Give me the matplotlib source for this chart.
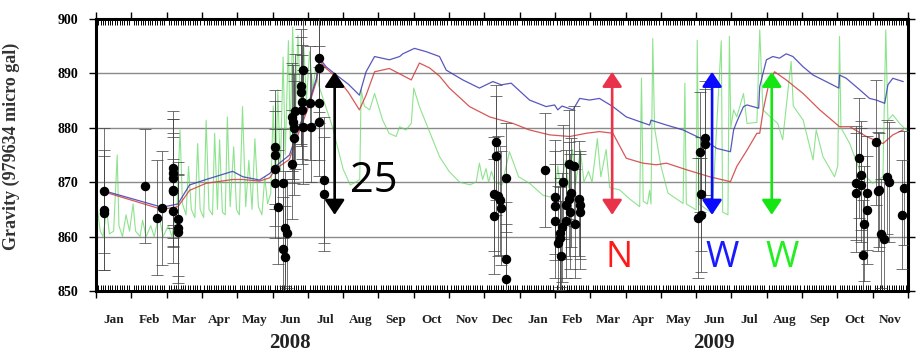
"""Gravity time series 2008-2009 with model curves, rainfall-like trace and observations."""

import matplotlib

matplotlib.use("Agg")
import matplotlib.pyplot as plt
import numpy as np

# x values are months counted from 1 Jan 2008
MONTH_LABELS = ["Jan", "Feb", "Mar", "Apr", "May", "Jun", "Jul", "Aug", "Sep", "Oct",
                "Nov", "Dec", "Jan", "Feb", "Mar", "Apr", "May", "Jun", "Jul", "Aug",
                "Sep", "Oct", "Nov"]
YEAR_LABELS = ["2008", "2009"]
YEAR_CENTERS = [5.5, 17.5]

# observations (month, gravity, error)
obs_t = [0.24, 0.24, 0.24, 1.40, 1.73, 1.87, 2.18, 2.18, 2.18, 2.18, 2.18, 2.18,
         2.32, 2.32, 2.32,
         5.06, 5.08, 5.06, 5.08, 5.15, 5.31, 5.34, 5.41, 5.31, 5.34, 5.56, 5.62,
         5.56, 5.58, 5.62, 5.64, 5.81, 5.81, 5.86, 5.84, 5.84, 5.86, 6.10, 6.07,
         6.31, 6.33, 6.31, 6.31, 6.47, 6.47,
         11.34, 11.34, 11.60, 11.27, 11.38, 11.45, 11.48, 11.27, 11.60, 11.60,
         12.73, 12.99, 12.99, 12.99, 13.13, 13.10, 13.15, 13.17, 13.20, 13.22,
         13.30, 13.32, 13.39, 13.41, 13.44, 13.43, 13.55, 13.56, 13.68, 13.70, 13.70,
         17.24, 17.26, 17.12, 17.13, 17.05, 17.13,
         21.61, 21.68, 21.52, 21.54, 21.68, 21.84, 21.84, 21.75, 21.72, 22.08,
         22.18, 22.16, 22.24, 22.31, 22.40, 22.46, 22.90, 22.84]
obs_g = [868.4, 864.9, 864.4, 869.3, 863.5, 865.2, 872.6, 871.6, 870.7, 868.6, 868.3, 864.7,
         863.2, 861.5, 860.9,
         876.5, 875.0, 872.5, 869.8, 865.5, 869.8, 861.5, 860.6, 857.8, 856.2, 873.3, 878.1,
         882.0, 881.1, 879.9, 883.0, 887.6, 886.6, 890.7, 884.8, 883.3, 880.1, 880.1, 884.5,
         892.9, 890.9, 884.5, 881.1, 870.4, 867.8,
         877.3, 874.9, 870.8, 867.8, 867.5, 866.7, 865.2, 863.7, 855.8, 852.3,
         872.2, 867.3, 865.7, 862.9, 860.7, 858.8, 859.7, 856.5, 861.7, 870.0,
         865.9, 862.9, 873.3, 866.9, 868.1, 864.6, 873.0, 862.4, 867.0, 865.8, 864.6,
         878.1, 877.1, 875.6, 867.8, 863.4, 864.0,
         874.5, 871.3, 869.8, 868.1, 869.5, 868.0, 864.9, 862.4, 856.7, 877.3,
         868.6, 868.3, 860.5, 859.5, 871.0, 870.1, 868.9, 864.0]
obs_e = [11.5, 11.0, 10.5, 10.5, 10.5, 10.5, 10.5, 10.0, 11.0, 10.5, 10.0, 9.5,
         10.5, 10.0, 10.5,
         10.5, 10.0, 10.5, 10.0, 10.5, 10.0, 10.5, 10.0, 9.5, 9.5, 10.0, 10.5,
         10.0, 10.5, 10.0, 10.5, 10.5, 10.0, 10.0, 10.5, 10.0, 10.5, 10.0, 10.5,
         10.0, 10.0, 10.5, 10.0, 11.5, 10.5,
         10.5, 11.0, 10.0, 10.5, 11.0, 10.0, 10.5, 10.5, 10.5, 10.0,
         10.5, 10.5, 10.0, 10.5, 10.0, 10.5, 9.5, 10.0, 10.0, 10.5,
         10.0, 10.5, 10.0, 10.5, 10.0, 10.5, 11.0, 10.0, 10.5, 10.0, 10.5,
         10.5, 10.0, 11.0, 10.5, 11.0, 10.5,
         11.0, 10.0, 10.5, 11.0, 10.5, 10.5, 10.0, 10.5, 10.0, 11.5,
         10.5, 11.0, 10.0, 11.0, 10.5, 11.0, 10.5, 10.0]

# blue model curve
blue_t = [0.24, 1.87, 2.32, 2.65, 3.12, 3.87, 4.16, 4.63, 4.92, 5.10,
          5.48, 5.77, 6.00, 6.24, 6.33, 6.52, 6.81, 7.15, 7.46, 7.65,
          7.89, 8.31, 8.60, 8.69, 9.02, 9.35, 9.73, 9.92, 10.39, 10.86,
          11.24, 11.48, 11.76, 12.28, 12.75, 12.99, 13.08, 13.20, 13.51, 13.70,
          13.98, 14.26, 14.64, 15.02, 15.68, 15.72, 16.16, 16.63, 17.21, 17.59,
          17.97, 18.06, 18.15, 18.34, 18.44, 18.77, 18.80, 18.99, 19.17, 19.36,
          19.55, 19.74, 20.03, 20.31, 20.68, 21.04, 21.06, 21.25, 21.63, 21.91,
          22.10, 22.34, 22.43, 22.57, 22.86]
blue_g = [868.4, 865.4, 866.0, 869.5, 870.5, 872.0, 871.0, 870.4, 871.6, 873.0,
          875.0, 880.5, 884.0, 889.0, 892.8, 891.2, 889.7, 888.0, 886.0, 890.3,
          893.1, 892.5, 893.1, 893.6, 894.6, 894.0, 893.1, 890.6, 888.8, 887.3,
          888.5, 887.9, 888.2, 885.1, 883.9, 884.2, 883.3, 884.0, 883.3, 885.4,
          885.1, 885.4, 883.9, 882.0, 880.5, 881.4, 880.5, 879.6, 877.8, 876.2,
          875.6, 879.6, 881.1, 883.9, 884.2, 883.6, 887.6, 892.5, 893.1, 892.8,
          893.6, 893.1, 891.2, 889.7, 888.5, 887.3, 889.7, 889.1, 887.0, 885.4,
          885.1, 884.5, 887.9, 889.1, 888.5]

# red model curve
red_t = [0.24, 1.87, 2.32, 2.65, 3.12, 3.87, 4.16, 4.63, 4.92, 5.10,
         5.48, 5.77, 6.00, 6.24, 6.33, 6.52, 6.81, 7.15, 7.46, 7.65,
         7.89, 8.31, 8.93, 9.16, 9.45, 9.73, 10.01, 10.58, 11.15, 11.81,
         12.28, 12.85, 13.42, 13.89, 14.26, 14.64, 15.02, 15.49, 15.87, 16.16,
         16.72, 17.38, 17.97, 18.15, 18.44, 18.72, 18.80, 18.90, 19.08, 19.22,
         19.55, 20.03, 20.50, 21.06, 21.35, 21.82, 22.29, 22.57, 22.86]
red_g = [868.2, 865.0, 865.5, 868.5, 869.8, 870.5, 870.5, 870.2, 870.8, 872.5,
         874.2, 879.6, 883.5, 888.5, 892.3, 890.9, 889.3, 886.5, 883.3, 886.0,
         890.3, 890.9, 888.8, 891.9, 891.0, 889.5, 887.3, 883.9, 882.0, 880.8,
         879.6, 878.7, 878.4, 879.0, 879.3, 879.0, 874.4, 873.5, 873.2, 873.5,
         872.3, 871.0, 870.1, 872.9, 875.9, 879.0, 879.0, 883.3, 888.8, 890.3,
         888.8, 886.3, 883.3, 880.2, 880.2, 878.4, 877.1, 878.7, 879.6]

# green spiky trace
green_t = [0.02, 0.12, 0.20, 0.30, 0.38, 0.50, 0.60, 0.65, 0.75, 0.85,
           0.95, 1.05, 1.12, 1.25, 1.32, 1.42, 1.55, 1.65, 1.78, 1.90,
           2.05, 2.15, 2.30, 2.38, 2.45, 2.55, 2.62, 2.70, 2.80, 2.88,
           2.95, 3.05, 3.12, 3.20, 3.30, 3.36, 3.44, 3.50, 3.58, 3.66,
           3.72, 3.80, 3.90, 3.98, 4.06, 4.15, 4.24, 4.33, 4.42, 4.50,
           4.60, 4.70, 4.78, 4.86, 4.95, 5.02, 5.08, 5.15, 5.22, 5.30,
           5.36, 5.45, 5.50, 5.57, 5.64, 5.72, 5.80, 5.88, 5.96, 6.05,
           6.14, 6.22, 6.30, 6.45, 6.70, 7.00, 7.20, 7.38, 7.47, 7.51,
           7.60, 7.75, 7.89, 8.12, 8.30, 8.50, 8.60, 8.78, 8.93, 9.00,
           9.16, 9.54, 9.73, 10.00, 10.30, 10.60, 10.77, 10.86, 10.95, 11.05,
           11.12, 11.20, 11.30, 11.50, 11.71, 11.97, 12.28, 12.66, 12.85, 13.00,
           13.08, 13.15, 13.30, 13.38, 13.50, 13.58, 13.72, 13.82, 13.95, 14.05,
           14.20, 14.30, 14.45, 14.55, 14.83, 15.10, 15.40, 15.45, 15.50, 15.62,
           15.68, 15.72, 15.77, 15.82, 16.00, 16.20, 16.63, 16.68, 16.72, 17.00,
           17.03, 17.08, 17.45, 17.71, 17.75, 17.90, 17.94, 17.98, 18.06, 18.15,
           18.34, 18.44, 18.72, 18.80, 18.89, 19.10, 19.31, 19.45, 19.69, 19.75,
           20.03, 20.31, 20.40, 20.59, 20.92, 21.01, 21.06, 21.10, 21.35, 21.63,
           22.00, 22.29, 22.37, 22.43, 22.57, 22.76, 22.95]
green_g = [866.0, 861.0, 860.0, 865.0, 860.5, 861.0, 875.0, 862.0, 860.0, 864.0,
           861.0, 866.0, 861.0, 860.0, 863.0, 860.0, 862.0, 860.0, 864.0, 860.0,
           862.0, 860.0, 866.0, 879.6, 866.0, 864.0, 872.9, 865.0, 863.5, 877.1,
           865.0, 863.5, 881.4, 865.0, 864.0, 879.0, 865.0, 877.8, 864.5, 864.0,
           882.0, 865.5, 876.5, 865.0, 864.0, 883.9, 865.5, 874.0, 865.0, 878.0,
           865.5, 864.0, 871.0, 866.0, 868.0, 884.0, 869.0, 887.0, 872.0, 893.0,
           875.0, 896.0, 878.0, 898.5, 881.0, 897.0, 884.0, 895.6, 885.0, 894.0,
           887.0, 891.0, 888.0, 885.0, 880.1, 872.4, 869.5, 870.1, 870.5, 887.0,
           884.0, 883.3, 886.3, 881.4, 879.0, 878.4, 880.2, 879.6, 880.8, 887.3,
           883.9, 877.8, 874.7, 872.0, 870.0, 869.5, 870.1, 873.5, 870.5, 872.5,
           870.0, 872.0, 870.0, 869.5, 875.6, 871.0, 869.8, 867.6, 867.3, 868.0,
           873.0, 869.0, 874.0, 869.0, 876.0, 869.5, 876.0, 870.0, 872.0, 870.0,
           878.0, 871.0, 876.0, 869.0, 868.6, 867.0, 865.5, 889.1, 866.5, 866.0,
           868.5, 866.0, 896.4, 880.0, 873.0, 868.0, 866.1, 888.2, 866.0, 864.9,
           896.1, 866.0, 864.3, 896.0, 864.5, 864.0, 896.8, 880.0, 883.3, 882.0,
           886.3, 880.8, 881.0, 898.0, 883.3, 882.0, 880.8, 877.8, 892.2, 884.0,
           881.4, 874.1, 879.6, 874.7, 871.0, 873.0, 896.8, 880.0, 877.1, 872.2,
           869.8, 871.0, 898.0, 881.4, 882.4, 880.8, 879.6]

# seasonal range arrows and their labels
arrow_t = [6.76, 14.62, 17.45, 19.14]
arrow_colors = ["black", "#e8334a", "#0a0aff", "#14e614"]
tag_t = [7.86, 14.82, 17.73, 19.43]
tag_g = [870.2, 856.0, 856.0, 856.0]
tag_text = ["25", "N", "W", "W"]
tag_colors = ["black", "#ff1a1a", "#1a1aff", "#22ee22"]


def main() -> None:
    fig = plt.figure(figsize=(9.24, 3.53), dpi=100, facecolor="white")
    ax = fig.add_axes([0.1039, 0.1756, 0.8788, 0.7706])

    serif = "Liberation Serif"

    ax.plot(green_t, green_g, color="#5ed85e", linewidth=0.8, alpha=0.7, zorder=2)
    ax.plot(red_t, red_g, color="#d23a3a", linewidth=0.9, alpha=0.85, zorder=3)
    ax.plot(blue_t, blue_g, color="#3a3ab4", linewidth=0.9, alpha=0.85, zorder=3)

    ax.errorbar(obs_t, obs_g, yerr=obs_e, fmt="none", ecolor="#444444",
                elinewidth=0.7, capsize=4, capthick=0.7, alpha=0.75, zorder=4)
    ax.plot(obs_t, obs_g, "o", color="black", markersize=5.8, zorder=5)

    for t, c in zip(arrow_t, arrow_colors):
        ax.annotate("", xy=(t, 864.0), xytext=(t, 890.3),
                    arrowprops=dict(arrowstyle="<|-|>,head_length=0.45,head_width=0.3",
                                    color=c, lw=1.9, mutation_scale=20,
                                    shrinkA=0, shrinkB=0),
                    zorder=6)
    for t, g, s, c in zip(tag_t, tag_g, tag_text, tag_colors):
        size = 30 if s == "25" else 26
        ax.text(t, g, s, color=c, fontsize=size, family="Open Sans",
                ha="center", va="center", zorder=6)

    ax.set_xlim(0, 23)
    ax.set_ylim(850, 900)
    ax.set_xticks(np.arange(0, 24))
    ax.set_xticklabels([])
    ax.set_xticks(np.arange(0, 23, 1 / 15), minor=True)
    ax.tick_params(axis="x", which="major", direction="out", length=5, width=1,
                   top=True, bottom=True)
    ax.tick_params(axis="x", which="minor", direction="in", length=4, width=0.7,
                   top=True, bottom=True)
    ax.set_yticks(np.arange(850, 901, 10))
    ax.tick_params(axis="y", direction="out", length=5, width=1, left=True,
                   right=True, pad=8)
    for lab in ax.get_yticklabels():
        lab.set_family(serif)
        lab.set_fontweight("bold")
        lab.set_fontsize(10)
    ax.yaxis.grid(True, color="#8a8a8a", linewidth=1.0)
    ax.set_axisbelow(True)

    xtrans = ax.get_xaxis_transform()
    for i, name in enumerate(MONTH_LABELS):
        ax.text(i + 0.5, -0.107, name, transform=xtrans, ha="center", va="center",
                family=serif, fontweight="bold", fontsize=9.5, color="#222222")
    for x, name in zip(YEAR_CENTERS, YEAR_LABELS):
        ax.text(x, -0.19, name, transform=xtrans, ha="center", va="center",
                family=serif, fontweight="bold", fontsize=15, color="#222222")

    ax.set_ylabel("Gravity (979634 micro gal)", family=serif, fontsize=13,
                  fontweight="bold", color="#333333")
    ax.yaxis.set_label_coords(-0.0936, 0.53)

    for spine in ax.spines.values():
        spine.set_linewidth(2.2)
        spine.set_color("black")

    fig.savefig("out.png", dpi=100, facecolor="white")
    plt.close(fig)


if __name__ == "__main__":
    main()
